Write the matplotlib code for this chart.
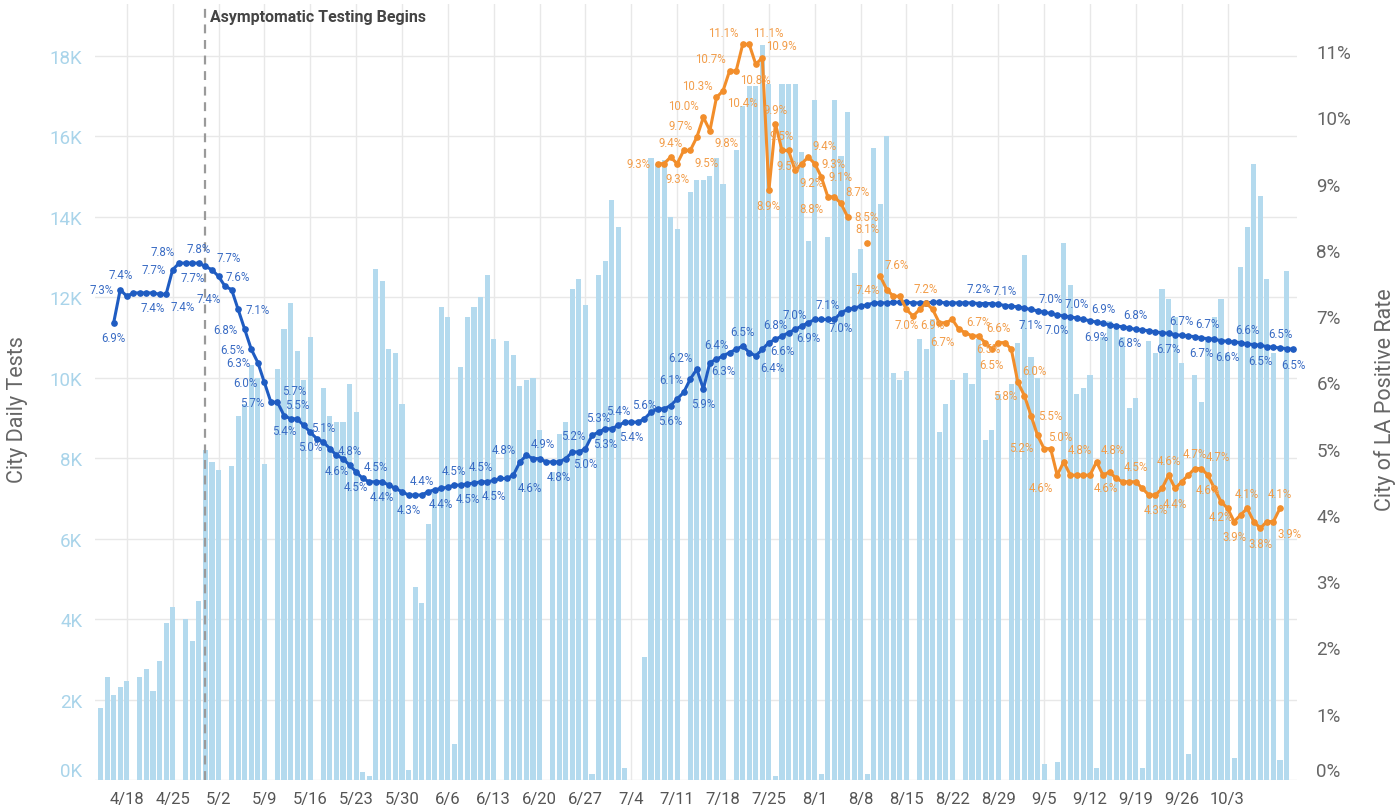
import matplotlib
matplotlib.use("Agg")
import matplotlib.pyplot as plt
import matplotlib.dates as mdates
import numpy as np
import pandas as pd

plt.rcParams['font.family'] = ['Roboto', 'DejaVu Sans']

# ---------------- data ----------------
test_start = "2020-04-14"
tests_k = [
    # Apr 14-30
    1.8, 2.55, 2.1, 2.3, 2.45, 0, 2.55, 2.75, 2.2, 2.95, 3.9, 4.3, 0, 4.0, 3.45, 4.45, 8.2,
    # May
    7.9, 7.7, 0, 7.8, 9.05, 9.35, 10.3, 10.0, 7.85, 0, 10.2, 11.2, 11.85, 10.65, 9.95, 11.0, 0,
    9.75, 9.05, 8.9, 8.9, 9.85, 9.15, 0.2, 0.1, 12.7, 12.4, 10.7, 10.6, 9.35, 0.25,
    # Jun
    4.8, 4.4, 6.35, 7.2, 11.75, 11.5, 0.9, 10.25, 11.5, 11.75, 12.0, 12.55, 10.95, 0,
    10.9, 10.55, 9.8, 9.95, 10.0, 8.7, 0, 7.65, 8.6, 8.9, 12.2, 12.45, 11.8, 0.15, 12.55, 12.9,
    # Jul
    14.4, 13.75, 0.3, 0, 0, 3.05, 15.45, 15.3, 15.4, 14.0, 13.7, 0, 14.6, 14.9, 14.9, 15.0,
    15.45, 14.8, 0, 15.65, 16.75, 17.25, 17.25, 18.25, 17.3, 0.1, 17.3, 17.3, 17.3, 15.6, 13.4,
    # Aug
    16.9, 0.15, 13.5, 16.9, 15.5, 16.6, 12.6, 13.2, 0.15, 15.7, 14.3, 16.0, 10.1, 9.95, 10.15, 0,
    10.95, 10.7, 11.45, 8.65, 9.35, 9.95, 0, 10.1, 9.85, 10.95, 8.45, 8.7, 9.6, 0, 9.85,
    # Sep
    10.85, 13.05, 10.5, 10.0, 0.4, 0, 0.45, 13.35, 12.3, 9.6, 9.75, 10.05, 0.3, 11.0, 11.4,
    11.2, 11.0, 9.25, 9.5, 0.3, 10.9, 10.6, 12.2, 11.95, 11.5, 10.35, 0.65, 10.05, 9.4, 10.9,
    # Oct
    11.5, 11.95, 10.6, 0.55, 12.75, 13.75, 15.3, 14.5, 12.45, 10.6, 0.5, 12.65,
]

city_start = "2020-04-16"
city_rate = [
    # Apr 16-30
    6.9, 7.4, 7.3, 7.35, 7.35, 7.35, 7.35, 7.33, 7.33, 7.7, 7.8, 7.8, 7.8, 7.8, 7.75,
    # May
    7.7, 7.6, 7.45, 7.4, 7.1, 6.8, 6.5, 6.3, 6.0, 5.7, 5.7, 5.5, 5.45, 5.45, 5.35, 5.25,
    5.15, 5.1, 5.0, 4.9, 4.85, 4.75, 4.65, 4.55, 4.5, 4.5, 4.5, 4.45, 4.4, 4.35, 4.3,
    # Jun
    4.3, 4.3, 4.35, 4.38, 4.4, 4.42, 4.45, 4.45, 4.47, 4.48, 4.5, 4.5, 4.52, 4.55, 4.55,
    4.6, 4.8, 4.9, 4.85, 4.85, 4.8, 4.8, 4.8, 4.85, 4.95, 4.95, 5.0, 5.2, 5.25, 5.3,
    # Jul
    5.3, 5.35, 5.4, 5.4, 5.4, 5.45, 5.55, 5.6, 5.6, 5.65, 5.75, 5.85, 6.05, 6.2, 5.9, 6.3,
    6.35, 6.4, 6.45, 6.5, 6.55, 6.45, 6.4, 6.5, 6.6, 6.65, 6.7, 6.75, 6.8, 6.85, 6.9,
    # Aug
    6.95, 6.95, 6.95, 6.95, 7.05, 7.1, 7.12, 7.15, 7.17, 7.2, 7.2, 7.2, 7.21, 7.21, 7.21,
    7.2, 7.2, 7.2, 7.21, 7.21, 7.2, 7.2, 7.2, 7.2, 7.2, 7.19, 7.19, 7.19, 7.18, 7.16, 7.15,
    # Sep
    7.14, 7.12, 7.1, 7.08, 7.06, 7.04, 7.02, 7.0, 6.99, 6.97, 6.95, 6.93, 6.91, 6.89, 6.87,
    6.85, 6.84, 6.82, 6.8, 6.79, 6.78, 6.76, 6.75, 6.74, 6.72, 6.71, 6.7, 6.69, 6.67, 6.66,
    # Oct
    6.65, 6.63, 6.62, 6.61, 6.6, 6.58, 6.57, 6.56, 6.54, 6.53, 6.52, 6.51, 6.5,
]

daily_start = "2020-07-08"
daily_rate = [
    # Jul 8-31
    9.3, 9.3, 9.4, 9.3, 9.5, 9.5, 9.7, 10.0, 9.8, 10.3, 10.4, 10.7, 10.7, 11.1, 11.1, 10.8,
    10.9, 8.9, 9.9, 9.5, 9.5, 9.2, 9.3, 9.4,
    # Aug
    9.3, 9.1, 8.8, 8.8, 8.7, 8.5, np.nan, np.nan, 8.1, np.nan, 7.6, 7.4, 7.3, 7.3, 7.1, 7.0,
    7.1, 7.2, 7.1, 6.9, 6.9, 6.95, 6.8, 6.75, 6.7, 6.7, 6.6, 6.5, 6.6, 6.6, 6.5,
    # Sep
    6.0, 5.8, 5.5, 5.2, 5.0, 5.0, 4.6, 4.8, 4.6, 4.6, 4.6, 4.6, 4.8, 4.6, 4.65, 4.55, 4.5,
    4.5, 4.5, 4.4, 4.3, 4.3, 4.4, 4.6, 4.4, 4.5, 4.6, 4.7, 4.7, 4.6,
    # Oct
    4.4, 4.2, 4.1, 3.9, 4.0, 4.1, 3.9, 3.8, 3.9, 3.9, 4.1,
]

week_ticks = pd.date_range("2020-04-18", "2020-10-03", freq="7D")
tick_labels = [f"{d.month}/{d.day}" for d in week_ticks]

event_date = "2020-04-30"
event_text = "Asymptomatic Testing Begins"

blue_lbl_dates = ["04-16", "04-17", "04-17", "04-22", "04-25", "04-24", "04-26", "04-29", "04-28",
                  "05-01", "05-03", "05-02", "05-05", "05-06", "05-07", "05-08", "05-09", "05-10",
                  "05-11", "05-12", "05-14", "05-16", "05-18", "05-20", "05-22", "05-23", "05-26",
                  "05-27", "05-31", "06-02", "06-05", "06-07", "06-09", "06-11", "06-13", "06-17",
                  "06-16", "06-18", "06-23", "06-28", "06-27", "06-29", "06-30", "07-02", "07-04",
                  "07-06", "07-10", "07-13", "07-14", "07-15", "07-17", "07-18", "07-21", "07-23",
                  "07-26", "07-27", "07-29", "07-31", "08-03", "08-05", "08-26", "08-30", "09-03",
                  "09-06", "09-07", "09-10", "09-13", "09-14", "09-18", "09-19", "09-24", "09-26",
                  "09-29", "09-30", "10-03", "10-06", "10-08", "10-11", "10-13"]
blue_lbl_text = [6.9, 7.3, 7.4, 7.4, 7.7, 7.4, 7.8, 7.8, 7.7,
                 7.7, 7.4, 7.6, 7.1, 6.8, 6.5, 6.3, 6.0, 5.7,
                 5.7, 5.4, 5.5, 5.0, 5.1, 4.6, 4.8, 4.5, 4.5,
                 4.4, 4.3, 4.4, 4.4, 4.5, 4.5, 4.5, 4.5, 4.8,
                 4.6, 4.9, 4.8, 5.2, 5.0, 5.3, 5.3, 5.4, 5.4,
                 5.6, 5.6, 6.1, 6.2, 5.9, 6.4, 6.3, 6.5, 6.4,
                 6.8, 6.6, 7.0, 6.9, 7.1, 7.0, 7.2, 7.1, 7.1,
                 7.0, 7.0, 7.0, 6.9, 6.9, 6.8, 6.8, 6.7, 6.7,
                 6.7, 6.7, 6.6, 6.6, 6.5, 6.5, 6.5]
blue_lbl_pos = ["b", "l", "a", "b", "l", "br", "al", "a", "b",
                "ar", "bl", "r", "r", "l", "l", "l", "l", "l",
                "ar", "b", "a", "b", "a", "b", "a", "b", "a",
                "b", "b", "a", "b", "a", "b", "a", "b", "al",
                "br", "ar", "b", "l", "b", "a", "b", "a", "b",
                "a", "b", "l", "al", "b", "a", "b", "a", "br",
                "a", "b", "a", "b", "a", "b", "a", "a", "b",
                "a", "b", "a", "b", "a", "b", "a", "b", "a",
                "b", "a", "b", "a", "b", "a", "b"]

orange_lbl_dates = ["07-08", "07-10", "07-11", "07-14", "07-15", "07-13", "07-17", "07-19", "07-21",
                    "07-16", "07-18", "07-22", "07-23", "07-24", "07-25", "07-26", "07-27", "07-28",
                    "07-29", "07-31", "08-01", "08-02", "08-03", "08-05", "08-06", "08-09", "08-11",
                    "08-12", "08-15", "08-18", "08-19", "08-23", "08-25", "08-26", "08-29", "08-28",
                    "09-01", "09-02", "09-03", "09-04", "09-05", "09-07", "09-08", "09-12", "09-13",
                    "09-19", "09-22", "09-24", "09-25", "09-28", "09-29", "09-30", "10-02", "10-04",
                    "10-06", "10-08", "10-11", "10-10"]
orange_lbl_text = [9.3, 9.4, 9.3, 9.7, 10.0, 9.5, 10.3, 10.7, 11.1,
                   9.8, 10.4, 11.1, 10.8, 10.9, 8.9, 9.9, 9.5, 9.5,
                   9.2, 9.4, 9.3, 9.1, 8.8, 8.7, 8.5, 8.1, 7.6,
                   7.4, 7.0, 7.2, 6.9, 6.7, 6.5, 6.7, 6.6, 6.5,
                   6.0, 5.8, 5.5, 5.2, 5.0, 4.6, 4.8, 4.6, 4.8,
                   4.5, 4.3, 4.6, 4.4, 4.7, 4.7, 4.6, 4.2, 3.9,
                   4.1, 3.8, 4.1, 3.9]
orange_lbl_pos = ["l", "a", "b", "al", "al", "br", "al", "al", "al",
                  "br", "br", "ar", "b", "ar", "b", "a", "a", "b",
                  "br", "ar", "r", "r", "bl", "ar", "r", "a", "ar",
                  "l", "b", "a", "b", "bl", "br", "a", "a", "b",
                  "ar", "l", "r", "bl", "ar", "bl", "ar", "br", "ar",
                  "a", "b", "a", "b", "a", "ar", "b", "b", "b",
                  "a", "b", "a", "br"]

# ---------------- styling ----------------
BAR_C = "#b4daee"
LEFT_TICK_C = "#a9d4ea"
BLUE_C = "#1f5cc2"
BLUE_LBL_C = "#3a6cc4"
ORANGE_C = "#f28e2b"
ORANGE_LBL_C = "#f29d4a"
GRID_C = "#e8e8e8"
TEXT_C = "#666666"

W, H = 1400, 812
fig = plt.figure(figsize=(W / 100, H / 100), dpi=100)
ax_l, ax_r, ax_t, ax_b = 95, 1297, 5, 781
ax = fig.add_axes([ax_l / W, (H - ax_b) / H, (ax_r - ax_l) / W, (ax_b - ax_t) / H])

t_dates = pd.date_range(test_start, periods=len(tests_k), freq="D")
c_dates = pd.date_range(city_start, periods=len(city_rate), freq="D")
d_dates = pd.date_range(daily_start, periods=len(daily_rate), freq="D")

t_num = mdates.date2num(t_dates)
c_num = mdates.date2num(c_dates)
d_num = mdates.date2num(d_dates)

ax.bar(t_num, tests_k, width=0.78, color=BAR_C, zorder=2, linewidth=0)

ref = mdates.date2num(pd.Timestamp("2020-04-18"))
ax.set_xlim(ref - 4.85, ref + 178.6)
ax.set_ylim(0, 19.28)
ax.set_yticks(np.arange(0, 19, 2))
ax.set_yticklabels([f"{int(v)}K" for v in np.arange(0, 19, 2)])
ax.set_xticks(mdates.date2num(week_ticks))
ax.set_xticklabels(tick_labels)
ax.tick_params(axis="y", length=0, pad=9, labelsize=13.5, labelcolor=LEFT_TICK_C)
ax.tick_params(axis="x", length=0, pad=8, labelsize=12, labelcolor="#555555")
ax.grid(True, axis="both", color=GRID_C, linewidth=1, zorder=0)
ax.set_axisbelow(True)
for s in ax.spines.values():
    s.set_visible(False)
# zero label sits slightly higher like the reference
ax.get_yticklabels()[0].set_va("bottom")

ev = mdates.date2num(pd.Timestamp(event_date)) - 0.1
ax.axvline(ev, color="#9a9a9a", linestyle=(0, (4, 3)), linewidth=1.6, zorder=3)
ax.annotate(event_text, xy=(ev, 18.98), xytext=(4, 0), textcoords="offset points",
            ha="left", va="center", fontsize=11.5, fontweight="bold", color="#444444")

axr = ax.twinx()
axr.set_ylim(0, 11.71)
axr.set_yticks(np.arange(0, 12, 1))
axr.set_yticklabels([f"{int(v)}%" for v in np.arange(0, 12, 1)])
axr.tick_params(axis="y", length=0, pad=14, labelsize=13.5, labelcolor=TEXT_C)
axr.get_yticklabels()[0].set_va("bottom")
for s in axr.spines.values():
    s.set_visible(False)

axr.plot(c_num, city_rate, color=BLUE_C, lw=2.2, marker="o", ms=3.8, zorder=5)
axr.plot(d_num, daily_rate, color=ORANGE_C, lw=2.2, marker="o", ms=3.8, zorder=5)

OFF = {"a": (0, 6, "center", "bottom"), "b": (0, -6, "center", "top"),
       "l": (-5, 0, "right", "center"), "r": (5, 0, "left", "center"),
       "al": (-3, 4, "right", "bottom"), "ar": (3, 4, "left", "bottom"),
       "bl": (-3, -4, "right", "top"), "br": (3, -4, "left", "top")}


def put_labels(dates, texts, poss, start, series, color):
    s0 = pd.Timestamp(start)
    for ds, tx, ps in zip(dates, texts, poss):
        dt = pd.Timestamp("2020-" + ds)
        i = (dt - s0).days
        yv = series[i]
        dx, dy, ha, va = OFF[ps]
        axr.annotate(f"{tx:.1f}%", xy=(mdates.date2num(dt), yv), xytext=(dx, dy),
                     textcoords="offset points", ha=ha, va=va, fontsize=8.3,
                     color=color, zorder=6)


put_labels(blue_lbl_dates, blue_lbl_text, blue_lbl_pos, city_start, city_rate, BLUE_LBL_C)
put_labels(orange_lbl_dates, orange_lbl_text, orange_lbl_pos, daily_start, daily_rate, ORANGE_LBL_C)

fig.text(18 / W, 1 - 410 / H, "City Daily Tests", rotation=90, ha="center", va="center",
         fontsize=15.5, color=TEXT_C)
fig.text(1385 / W, 1 - 400 / H, "City of LA Positive Rate", rotation=90, ha="center",
         va="center", fontsize=15.5, color=TEXT_C)

fig.savefig("out.png", dpi=100)
